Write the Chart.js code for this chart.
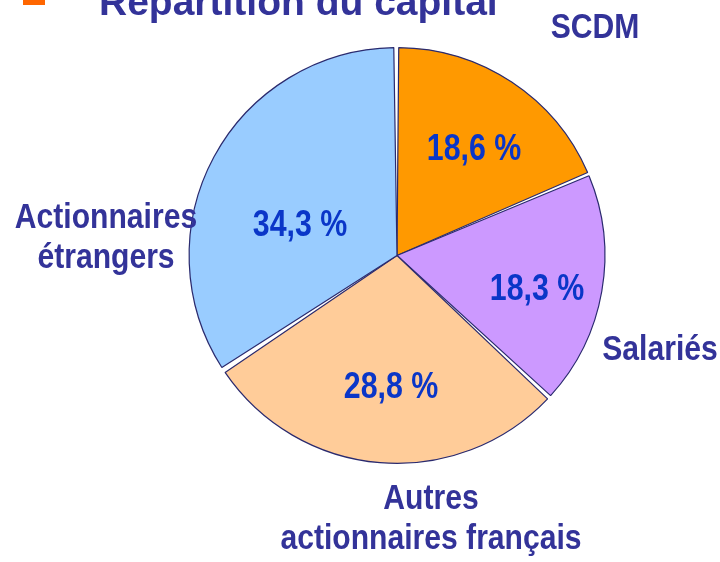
<!DOCTYPE html>
<html>
<head>
<meta charset="utf-8">
<script src="https://cdn.jsdelivr.net/npm/chart.js@4/dist/chart.umd.min.js"></script>
<style>
  html, body { margin: 0; padding: 0; background: #fff; }
  #wrap { width: 720px; height: 562px; position: relative; }
</style>
</head>
<body>
<div id="wrap"><canvas id="c" width="720" height="562"></canvas></div>
<script>
// Répartition du capital (%)
const categories = ['SCDM', 'Salariés', 'Autres actionnaires français', 'Actionnaires étrangers'];
const shares = [18.6, 18.3, 28.8, 34.3];
const sliceColors = ['#ff9900', '#cc99ff', '#ffcc99', '#99ccff'];

// label text lines per slice, and where they sit on the page (px)
const labelLines = [['SCDM'], ['Salariés'], ['Autres', 'actionnaires français'], ['Actionnaires', 'étrangers']];
const labelPos = [[595, 38], [660, 360], [431, 509], [106, 228]];
const valuePos = [[474, 160], [537, 300], [391, 398], [300, 236]];

const NAVY = '#333399';
const BLUE = '#0a36c8';
const SANS = '"Liberation Sans", Arial, sans-serif';
// no narrow font installed, so squeeze the Arial-alike
const SQUEEZE_VAL = 0.82;
const SQUEEZE_LBL = 0.86;

const fmt = v => v.toFixed(1).replace('.', ',') + ' %';

// centred text squeezed horizontally
function narrowText(ctx, txt, x, y, sq) {
  ctx.save();
  ctx.translate(x, y);
  ctx.scale(sq, 1);
  ctx.fillText(txt, 0, 0);
  ctx.restore();
}

// title, slice values and outside labels
const decor = {
  id: 'decor',
  afterDraw(chart) {
    const ctx = chart.ctx;
    ctx.save();

    // orange bullet + cut-off title
    ctx.fillStyle = '#ff6600';
    ctx.fillRect(23, 0, 22, 5);
    ctx.fillStyle = NAVY;
    ctx.font = 'bold 39px ' + SANS;
    ctx.textAlign = 'left';
    ctx.textBaseline = 'alphabetic';
    ctx.fillText('Répartition du capital', 99, 15);

    ctx.textAlign = 'center';
    ctx.font = 'bold 37px ' + SANS;
    ctx.fillStyle = BLUE;
    shares.forEach((v, i) => narrowText(ctx, fmt(v), valuePos[i][0], valuePos[i][1], SQUEEZE_VAL));

    ctx.font = 'bold 35px ' + SANS;
    ctx.fillStyle = NAVY;
    labelLines.forEach((lines, i) => {
      lines.forEach((t, k) => narrowText(ctx, t, labelPos[i][0], labelPos[i][1] + k * 40, SQUEEZE_LBL));
    });
    ctx.restore();
  }
};

new Chart(document.getElementById('c'), {
  type: 'pie',
  data: {
    labels: categories,
    datasets: [{
      data: shares,
      backgroundColor: sliceColors,
      borderColor: '#2a2a6e',
      borderWidth: 1.2,
      spacing: 3
    }]
  },
  options: {
    responsive: false,
    animation: false,
    layout: { padding: { left: 188, top: 47, right: 114, bottom: 98 } },
    plugins: {
      legend: { display: false },
      title: { display: false },
      tooltip: { enabled: false }
    }
  },
  plugins: [decor]
});
</script>
</body>
</html>
